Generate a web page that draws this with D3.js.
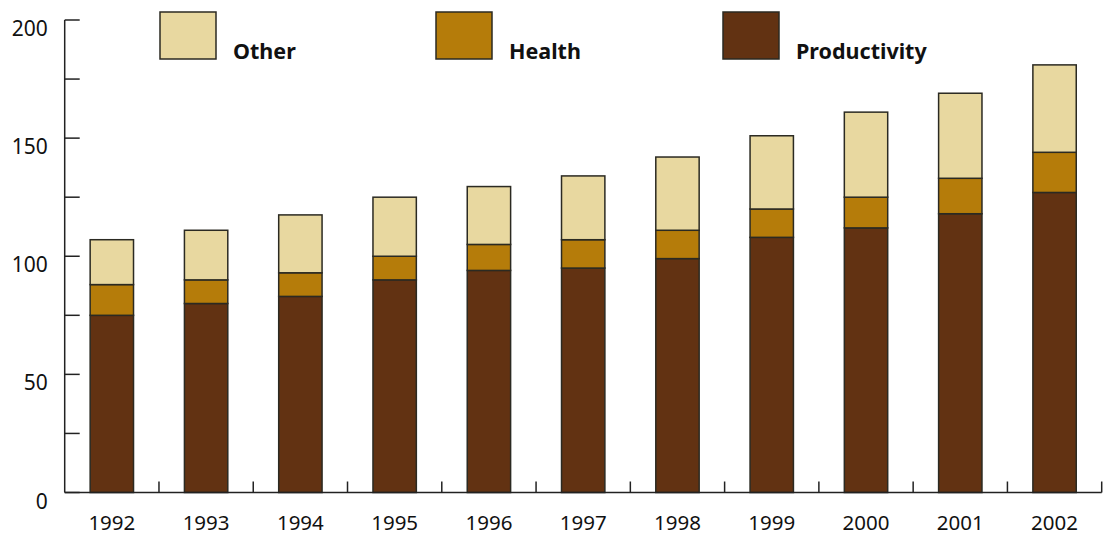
<!DOCTYPE html>
<html>
<head>
<meta charset="utf-8">
<script src="https://cdn.jsdelivr.net/npm/d3@7/dist/d3.min.js"></script>
<style>
  html, body { margin: 0; padding: 0; background: #fff; }
  svg { display: block; font-family: "Noto Sans", "Open Sans", sans-serif; }
</style>
</head>
<body>
<svg id="chart" width="1106" height="536"></svg>
<script>
// Categories and stacked series values
const years = ["1992","1993","1994","1995","1996","1997","1998","1999","2000","2001","2002"];
const productivity = [75, 80, 83, 90, 94, 95, 99, 108, 112, 118, 127];
const health       = [13, 10, 10, 10, 11, 12, 12, 12, 13, 15, 17];
const other        = [19, 21, 24.5, 25, 24.5, 27, 31, 31, 36, 36, 37];
const seriesNames  = ["Productivity", "Health", "Other"];
const yTickValues  = [0, 25, 50, 75, 100, 125, 150, 175, 200];
const yTickLabels  = ["0", "", "50", "", "100", "", "150", "", "200"];

const colors = { Productivity: "#623212", Health: "#B57C0A", Other: "#E8D8A0" };
const strokeColor = "#2b2a22";

const svg = d3.select("#chart");
const plotLeft = 64.7, plotRight = 1101.7, plotTop = 20, plotBottom = 492.5;

const x = d3.scaleBand().domain(years).range([plotLeft, plotRight]).paddingInner(0.54).paddingOuter(0.27);
const y = d3.scaleLinear().domain([0, 200]).range([plotBottom, plotTop]);

const table = years.map((yr, i) => ({
  year: yr, Productivity: productivity[i], Health: health[i], Other: other[i]
}));
const stacked = d3.stack().keys(seriesNames)(table);

// Bars
svg.append("g").selectAll("g")
  .data(stacked)
  .join("g")
  .attr("fill", d => colors[d.key])
  .selectAll("rect")
  .data(d => d)
  .join("rect")
  .attr("x", d => x(d.data.year))
  .attr("width", x.bandwidth())
  .attr("y", d => y(d[1]))
  .attr("height", d => y(d[0]) - y(d[1]))
  .attr("stroke", strokeColor)
  .attr("stroke-width", 1.5);

// Y axis: inward ticks, labels hanging just below each tick
const yAxisG = svg.append("g").attr("transform", `translate(${plotLeft},0)`);
yAxisG.append("line")
  .attr("x1", 0).attr("x2", 0).attr("y1", y(200)).attr("y2", y(0))
  .attr("stroke", "#222").attr("stroke-width", 1.5);
yAxisG.selectAll("line.tick")
  .data(yTickValues)
  .join("line")
  .attr("class", "tick")
  .attr("x1", 0).attr("x2", 15)
  .attr("y1", d => y(d)).attr("y2", d => y(d))
  .attr("stroke", "#222").attr("stroke-width", 1.5);
yAxisG.selectAll("text")
  .data(yTickValues)
  .join("text")
  .attr("x", -17)
  .attr("y", d => y(d) + 16)
  .attr("text-anchor", "end")
  .attr("font-size", 21)
  .attr("fill", "#111")
  .text((d, i) => yTickLabels[i]);

// X axis: baseline with upward ticks at category boundaries
const xAxisG = svg.append("g");
xAxisG.append("line")
  .attr("x1", plotLeft).attr("x2", plotRight).attr("y1", plotBottom).attr("y2", plotBottom)
  .attr("stroke", "#222").attr("stroke-width", 1.5);
const step = x.step();
xAxisG.selectAll("line.tick")
  .data(years.slice(1).concat(["end"]))
  .join("line")
  .attr("class", "tick")
  .attr("x1", (d, i) => plotLeft + step * (i + 1))
  .attr("x2", (d, i) => plotLeft + step * (i + 1))
  .attr("y1", plotBottom).attr("y2", plotBottom - 11)
  .attr("stroke", "#222").attr("stroke-width", 1.5);
xAxisG.selectAll("text")
  .data(years)
  .join("text")
  .attr("x", d => x(d) + x.bandwidth() / 2)
  .attr("y", 530)
  .attr("text-anchor", "middle")
  .attr("font-size", 20.5)
  .attr("fill", "#111")
  .text(d => d);

// Legend
const legendItems = [
  { name: "Other", sx: 160 },
  { name: "Health", sx: 436 },
  { name: "Productivity", sx: 723 }
];
const lg = svg.append("g").selectAll("g").data(legendItems).join("g");
lg.append("rect")
  .attr("x", d => d.sx).attr("y", 12)
  .attr("width", 56).attr("height", 47)
  .attr("fill", d => colors[d.name])
  .attr("stroke", strokeColor).attr("stroke-width", 1.5);
lg.append("text")
  .attr("x", d => d.sx + 73).attr("y", 59)
  .attr("font-size", 21.5).attr("font-weight", "bold")
  .attr("fill", "#111")
  .text(d => d.name);
</script>
</body>
</html>
